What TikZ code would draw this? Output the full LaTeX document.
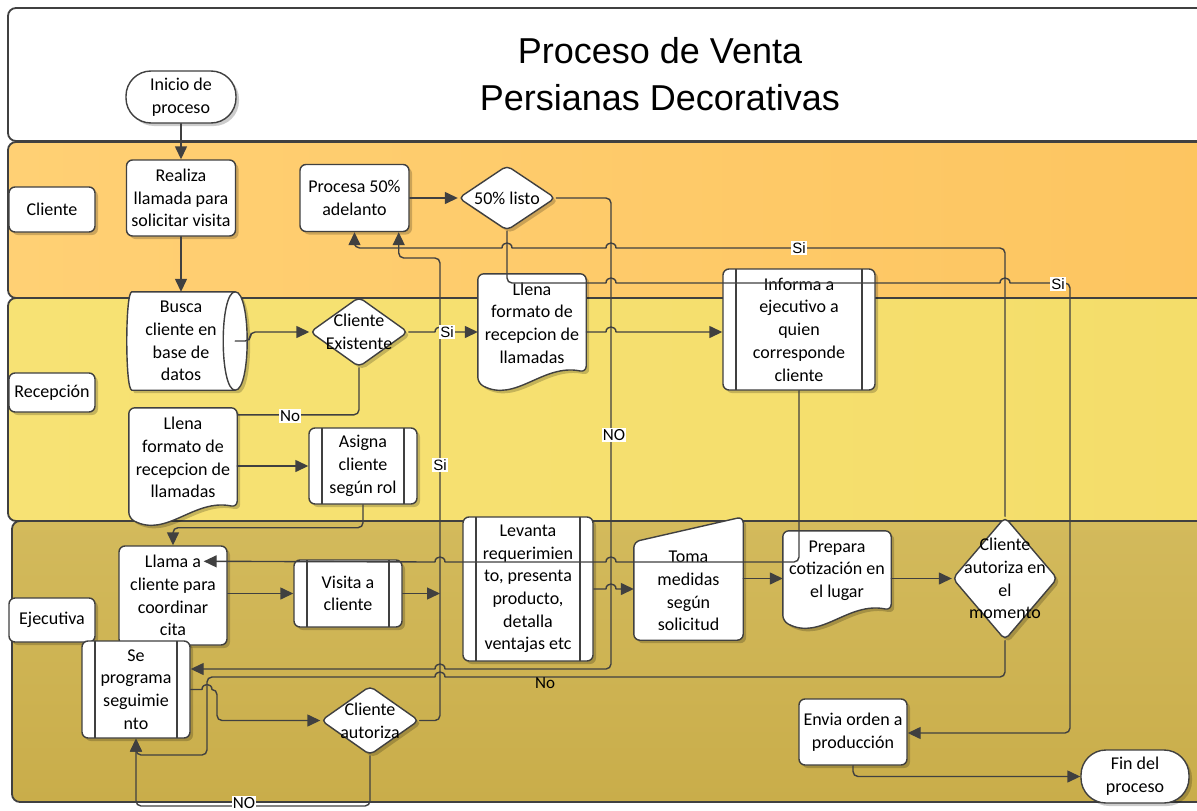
\documentclass[tikz,border=0pt]{standalone}
\usepackage{fontspec}
\setmainfont{Carlito}
\newfontfamily\arialf{Liberation Sans}
\usetikzlibrary{arrows.meta,calc,shapes.geometric,shadows}

\definecolor{ink}{HTML}{404040}
\definecolor{laneCa}{HTML}{FFD074}
\definecolor{laneCb}{HTML}{FDC560}
\definecolor{laneRa}{HTML}{F7E274}
\definecolor{laneRb}{HTML}{F4DD6A}
\definecolor{laneEa}{HTML}{D3BA5C}
\definecolor{laneEb}{HTML}{C9AD4A}

\pgfdeclarelayer{lanes}
\pgfdeclarelayer{shapes}
\pgfdeclarelayer{wires}
\pgfsetlayers{lanes,shapes,main,wires}

\tikzset{
  boxfont/.style={font=\fontsize{18}{22.7}\selectfont},
  softshadow/.style={drop shadow={shadow xshift=3pt,shadow yshift=-3pt,opacity=0.2,fill=black}},
  procbox/.style={draw=ink, line width=1.4pt, fill=white, rounded corners=6pt,
    align=center, inner sep=0pt, boxfont, softshadow},
  textonly/.style={align=center, inner sep=0pt, boxfont},
  predef/.style={procbox, path picture={
      \draw[ink, line width=1.4pt]
        ([xshift=13pt]path picture bounding box.north west) -- ([xshift=13pt]path picture bounding box.south west)
        ([xshift=-13pt]path picture bounding box.north east) -- ([xshift=-13pt]path picture bounding box.south east);}},
  outline/.style={draw=ink, line width=1.4pt, fill=white, softshadow},
  decision/.style={diamond, draw=ink, line width=1.4pt, fill=white, inner sep=0pt,
    rounded corners=5pt, softshadow},
  terminal/.style={procbox, rounded corners=25pt},
  lane/.style={draw=ink, line width=1.8pt, rounded corners=8pt},
  lanetag/.style={procbox, minimum width=86pt},
  wire/.style={draw=ink, line width=1.4pt, rounded corners=5pt, line cap=round},
  arrowed/.style={-{Triangle[length=13pt,width=12pt]}},
  lblyes/.style={fill=white, inner sep=1pt, font=\arialf\fontsize{15}{15}\selectfont},
  lblno/.style={fill=white, inner sep=1pt, font=\fontsize{17}{17}\selectfont},
}

% document symbol with a wavy lower edge
\newcommand\docoutline[1]{%
  \path[outline, rounded corners=6pt] (#1.north west) -- (#1.north east) -- (#1.south east)
    .. controls ($(#1.south west)!0.6!(#1.south east)+(0,-9)$) and ($(#1.south west)!0.35!(#1.south east)+(0,31)$) ..
    ($(#1.south west)+(0,11)$) -- cycle;}

\begin{document}
\begin{tikzpicture}[x=1pt,y=-1pt]
\useasboundingbox (0,0) rectangle (1197,811);

% swim lanes
\begin{pgfonlayer}{lanes}
  \path[lane, fill=white] (8,8) rectangle (1215,141);
  \path[lane, left color=laneCa, right color=laneCb] (8,142) rectangle (1215,298);
  \path[lane, left color=laneRa, right color=laneRb] (8,298) rectangle (1215,521);
  \path[lane, top color=laneEa, bottom color=laneEb] (12,521) rectangle (1215,802);
\end{pgfonlayer}

\node[font=\arialf\fontsize{36}{47}\selectfont, align=center] (title) at (660,74)
  {Proceso de Venta\\Persianas Decorativas};

% lane tags
\node[lanetag, minimum height=45pt] (tagC) at (52,209.5) {Cliente};
\node[lanetag, minimum height=39pt] (tagR) at (52,392.5) {Recepción};
\node[lanetag, minimum height=44pt] (tagE) at (52,620) {Ejecutiva};

% Cliente
\node[terminal, minimum width=110pt, minimum height=52pt] (start) at (181,97) {Inicio de\\proceso};
\node[procbox, minimum width=109pt, minimum height=76pt] (call) at (181,198) {Realiza\\llamada para\\solicitar visita};
\node[procbox, minimum width=109pt, minimum height=67pt] (advance) at (354.5,198) {Procesa 50\%\\adelanto};
\node[decision, minimum width=97pt, minimum height=65pt] (ready) at (507,198) {};
\node[textonly] (readyT) at (ready.center) {50\% listo};

% Recepción
\node[textonly, minimum width=108pt, minimum height=98pt] (lookup) at (181,341) {Busca\\cliente en\\base de\\datos};
\node[decision, minimum width=98pt, minimum height=70pt] (exists) at (359,332) {};
\node[textonly] (existsT) at (exists.center) {Cliente\\Existente};
\node[textonly, minimum width=108pt, minimum height=98pt] (form1) at (532,323) {Llena\\formato de\\recepcion de\\llamadas};
\node[predef, minimum width=152pt, minimum height=121pt] (inform) at (799,329.5) {Informa a\\ejecutivo a\\quien\\corresponde\\cliente};
\node[textonly, minimum width=108pt, minimum height=99pt] (form2) at (183,457.5) {Llena\\formato de\\recepcion de\\llamadas};
\node[predef, minimum width=108pt, minimum height=76pt] (assign) at (363,466) {Asigna\\cliente\\según rol};

% Ejecutiva
\node[procbox, minimum width=108pt, minimum height=99pt] (callback) at (173,595.5) {Llama a\\cliente para\\coordinar\\cita};
\node[predef, minimum width=108pt, minimum height=67pt] (visit) at (348,593.5) {Visita a\\cliente};
\node[predef, minimum width=130pt, minimum height=144pt] (survey) at (528,589) {Levanta\\requerimien\\to, presenta\\producto,\\detalla\\ventajas etc};
\node[textonly, minimum width=109pt, minimum height=98pt] (measure) at (688.5,591) {Toma\\medidas\\según\\solicitud};
\node[textonly, minimum width=108pt, minimum height=79pt] (quote) at (837,570.5) {Prepara\\cotización en\\el lugar};
\node[decision, minimum width=105pt, minimum height=123pt] (approve) at (1005,578.5) {};
\node[textonly] (approveT) at (approve.center) {Cliente\\autoriza en\\el\\momento};
\node[predef, minimum width=108pt, minimum height=97pt] (follow) at (136,689.5) {Se\\programa\\seguimie\\nto};
\node[decision, minimum width=98pt, minimum height=69pt] (agree) at (370,720.5) {};
\node[textonly] (agreeT) at (agree.center) {Cliente\\autoriza};
\node[procbox, minimum width=108pt, minimum height=66pt] (order) at (853,732) {Envia orden a\\producción};
\node[terminal, minimum width=108pt, minimum height=53pt] (finish) at (1135,776.5) {Fin del\\proceso};

% outlines of the special symbols, under their texts
\begin{pgfonlayer}{shapes}
  \path[outline] ($(lookup.north west)+(5,0)$) -- (lookup.north east)
    .. controls ($(lookup.north east)+(16,0)$) and ($(lookup.south east)+(16,0)$) .. (lookup.south east)
    -- ($(lookup.south west)+(5,0)$)
    .. controls ($(lookup.south west)+(-1.7,0)$) and ($(lookup.north west)+(-1.7,0)$) .. ($(lookup.north west)+(5,0)$)
    -- cycle;
  \draw[ink, line width=1.4pt] (lookup.north east)
    .. controls ($(lookup.north east)+(-16,0)$) and ($(lookup.south east)+(-16,0)$) .. (lookup.south east);
  \docoutline{form1}
  \docoutline{form2}
  \docoutline{quote}
  \path[outline, rounded corners=6pt] (measure.south west) -- (measure.north west)
    -- ($(measure.north east)+(0,-25)$) -- (measure.south east) -- cycle;
\end{pgfonlayer}

\coordinate (joint) at (440,593.5);
\coordinate (advR) at ([xshift=-11pt]advance.south east);
\coordinate (callIn) at ($(callback.north east)+(-24,16)$);

% connectors; a small hop marks each crossing of a vertical line
\begin{pgfonlayer}{wires}
  \path[wire, arrowed] (start.south) -- (call.north);
  \path[wire, arrowed] (call.south) -- (lookup.north);
  \path[wire, arrowed] (lookup.east) -- ++(15,0) |- (exists.west);
  \path[wire, arrowed] (exists.east) -- (435,332)
    (435,332) .. controls (435,325.3) and (445,325.3) .. (445,332)
    (445,332) -- (form1.west |- exists.east);
  \path[wire] (exists.south) |- ([yshift=-7pt]form2.north east);
  \path[wire, arrowed] (form2.east |- assign.west) -- (assign.west);
  \path[wire, arrowed] (assign.south) -- ++(0,23) -| (callback.north);
  \path[wire, arrowed] (form1.east |- exists.east) -- (606,332)
    (606,332) .. controls (606,325.3) and (616,325.3) .. (616,332)
    (616,332) -- (inform.west |- exists.east);
  \path[wire, arrowed] (advance.east) -- (ready.west);
  \path[wire, arrowed] (callback.east |- visit.west) -- (visit.west);
  \path[wire, arrowed] (visit.east) -- (joint);
  \path[wire, arrowed] (survey.east) -- (606,589)
    (606,589) .. controls (606,582.3) and (616,582.3) .. (616,589)
    (616,589) -- (measure.west |- survey.east);
  \path[wire, arrowed] (measure.east |- approve.west) -- (quote.west |- approve.west);
  \path[wire, arrowed] (quote.east |- approve.west) -- (approve.west);
  % approval in place goes back to the advance payment
  \path[wire, arrowed] (approve.north) -- (1005,248) -- (616,248)
    (616,248) .. controls (616,241.3) and (606,241.3) .. (606,248)
    (606,248) -- (512,248)
    (512,248) .. controls (512,241.3) and (502,241.3) .. (502,248)
    (502,248) -- (advance.south |- 0,248) -- (advance.south);
  \path[wire, arrowed] (agree.east) -- (440,720.5) -- (440,258) -- (advR |- 0,258) -- (advR);
  \path[wire, arrowed] (ready.east) -- (611,198) -- (611,669) -- (445,669)
    (445,669) .. controls (445,662.3) and (435,662.3) .. (435,669)
    (435,669) -- (follow.east |- 0,669);
  \path[wire, arrowed] (approve.south) -- (1005,677) -- (445,677)
    (445,677) .. controls (445,670.3) and (435,670.3) .. (435,677)
    (435,677) -- (207,677) -- (207,755) -- (follow.south |- 0,755) -- (follow.south);
  \path[wire, arrowed] (follow.east) -- (202,689.5)
    (202,689.5) .. controls (202,682.8) and (212,682.8) .. (212,689.5)
    (212,689.5) -- (217,689.5) -- (217,720.5) -- (agree.west);
  \path[wire, arrowed] (agree.south) -- (370,806) -- (follow.south |- 0,806) -- (follow.south);
  \path[wire, arrowed] (inform.south) -- (799,562) -- (616,562)
    (616,562) .. controls (616,555.3) and (606,555.3) .. (606,562)
    (606,562) -- (445,562)
    (445,562) .. controls (445,555.3) and (435,555.3) .. (435,562)
    (435,562) -- (callIn);
  \path[wire, arrowed] (ready.south) -- (507,283) -- (606,283)
    (606,283) .. controls (606,276.3) and (616,276.3) .. (616,283)
    (616,283) -- (1000,283)
    (1000,283) .. controls (1000,276.3) and (1010,276.3) .. (1010,283)
    (1010,283) -- (1070,283) -- (1070,733) -- (order.east |- 0,733);
  \path[wire, arrowed] (order.south) |- (finish.west);

  % branch labels
  \node[lblyes] (si1) at (447,332) {Si};
  \node[lblno] (no1) at (290,416) {No};
  \node[lblyes] (si2) at (799,248) {Si};
  \node[lblyes] (si3) at (1058,284) {Si};
  \node[lblyes] (si4) at (440,465) {Si};
  \node[lblno] (no2) at (614,435) {NO};
  \node[font=\fontsize{17}{17}\selectfont, inner sep=0pt] (no3) at (545,683) {No};
  \node[lblno] (no4) at (244,803) {NO};
\end{pgfonlayer}
\end{tikzpicture}
\end{document}
